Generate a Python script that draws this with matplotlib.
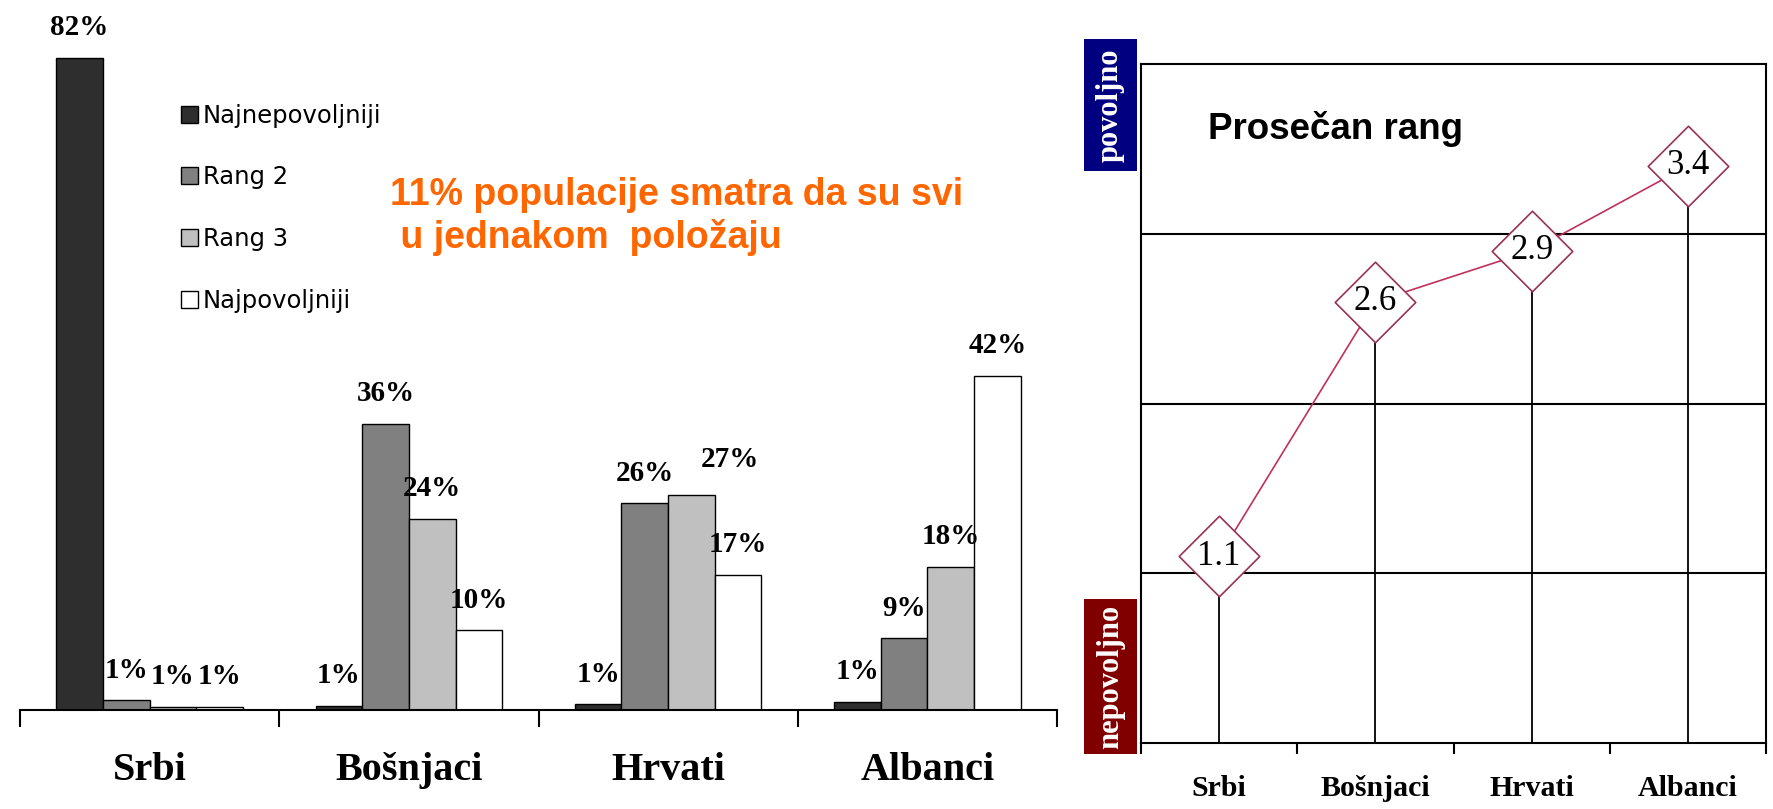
import numpy as np
import matplotlib
matplotlib.use("Agg")
import matplotlib.pyplot as plt
from matplotlib.path import Path
from matplotlib.ticker import FixedLocator, NullFormatter

# ---- data ----------------------------------------------------------------
groups = ["Srbi", "Bošnjaci", "Hrvati", "Albanci"]
series = ["Najnepovoljniji", "Rang 2", "Rang 3", "Najpovoljniji"]
# share of respondents per rank (bar heights; tiny ones printed as 1%)
najnepovoljniji = [82, 0.5, 0.7, 1.0]
rang2 = [1.2, 36, 26, 9]
rang3 = [0.4, 24, 27, 18]
najpovoljniji = [0.4, 10, 17, 42]
printed = [[82, 1, 1, 1], [1, 36, 26, 9], [1, 24, 27, 18], [1, 10, 17, 42]]

avg_rank = [1.1, 2.6, 2.9, 3.4]
note = "11% populacije smatra da su svi\n u jednakom  položaju"

SERIF = "Liberation Serif"
SANS = "Liberation Sans"
bar_colors = ["#2e2e2e", "#808080", "#c0c0c0", "#ffffff"]
# label nudges (points) where the original moved a label off its bar
nudge = {(2, 2): (28, 4)}

W, H = 1773, 809
fig = plt.figure(figsize=(W / 100, H / 100), dpi=100)

# ---- left: grouped bars --------------------------------------------------
ax = fig.add_axes([20 / W, 1 - 710 / H, 1037 / W, 700 / H])
x = np.arange(len(groups))
bw = 0.18
values = [najnepovoljniji, rang2, rang3, najpovoljniji]
for k, (vals, lab) in enumerate(zip(values, series)):
    pos = x + (k - 1.5) * bw
    bars = ax.bar(pos, vals, bw, color=bar_colors[k], edgecolor="black",
                  linewidth=1, label=lab, zorder=2)
    for g, (b, p) in enumerate(zip(bars, printed[k])):
        dx, dy = nudge.get((k, g), (0, 0))
        ax.annotate(f"{p}%", (b.get_x() + b.get_width() / 2, b.get_height()),
                    xytext=(dx, 12 + dy), textcoords="offset points",
                    ha="center", va="bottom", fontsize=21,
                    fontfamily=SERIF, fontweight="bold", annotation_clip=False)

ax.set_xlim(-0.5, 3.5)
ax.set_ylim(0, 88)
for s in ["left", "right", "top"]:
    ax.spines[s].set_visible(False)
ax.spines["bottom"].set_linewidth(1.5)
ax.set_yticks([])
ax.set_xticks(x)
ax.set_xticklabels(groups, fontsize=29, fontfamily=SERIF, fontweight="bold")
ax.tick_params(axis="x", which="major", length=0, pad=30)
ax.xaxis.set_minor_locator(FixedLocator(np.arange(-0.5, 4, 1)))
ax.tick_params(axis="x", which="minor", length=12, width=1.5, direction="out")

leg = ax.legend(loc="upper left", bbox_to_anchor=(0.155, 0.866), frameon=False,
                prop={"family": "DejaVu Sans", "size": 17.5},
                handlelength=0.7, handleheight=0.7, handletextpad=0.2,
                labelspacing=1.55, borderpad=0, borderaxespad=0)

fig.text(390 / W, 1 - 177 / H, note, color="#ff6600", fontsize=27,
         fontfamily=SANS, fontweight="bold", va="top", ha="left",
         linespacing=1.2)

# ---- right: average rank ---------------------------------------------------
ax2 = fig.add_axes([1141 / W, 1 - 743 / H, 625 / W, 679 / H])
xr = np.arange(len(groups))
ax2.set_xlim(-0.5, 3.5)
ax2.set_ylim(0, 4)
for yv in [1, 2, 3]:
    ax2.axhline(yv, color="black", lw=1.5, zorder=1)
ax2.vlines(xr, 0, avg_rank, color="black", lw=1.3, zorder=1)
diamond = Path([(0, -1), (1, 0), (0, 1), (-1, 0), (0, -1)],
               [Path.MOVETO, Path.LINETO, Path.LINETO, Path.LINETO, Path.CLOSEPOLY])
ax2.plot(xr, avg_rank, color="#c0305a", lw=1.2, zorder=2)
ax2.plot(xr, avg_rank, linestyle="none", marker=diamond, markersize=58,
         markerfacecolor="white", markeredgecolor="#993355",
         markeredgewidth=1.2, zorder=3)
for xi, v in zip(xr, avg_rank):
    ax2.text(xi, v, f"{v:.1f}", ha="center", va="center", fontsize=25,
             fontfamily=SERIF, zorder=4)

for s in ax2.spines.values():
    s.set_linewidth(1.5)
ax2.set_yticks([])
ax2.set_xticks(xr)
ax2.set_xticklabels(groups, fontsize=21.5, fontfamily=SERIF, fontweight="bold")
ax2.tick_params(axis="x", which="major", length=0, pad=23)
ax2.xaxis.set_minor_locator(FixedLocator(np.arange(-0.5, 4, 1)))
ax2.xaxis.set_minor_formatter(NullFormatter())
ax2.tick_params(axis="x", which="minor", length=8, width=1.5, direction="out")

ax2.text(0.107, 0.904, "Prosečan rang", transform=ax2.transAxes, fontsize=26.5,
         fontfamily=SANS, fontweight="bold", ha="left", va="center")

# side tags
for label, color, y0, y1 in [("povoljno", "#000080", 39, 171),
                             ("nepovoljno", "#800000", 599, 754)]:
    tag = fig.add_axes([1084 / W, 1 - y1 / H, 53 / W, (y1 - y0) / H])
    tag.set_facecolor(color)
    tag.set_xticks([])
    tag.set_yticks([])
    for s in tag.spines.values():
        s.set_visible(False)
    tag.text(0.5, 0.5, label, rotation=90, color="white", fontsize=22,
             fontfamily=SERIF, fontweight="bold", ha="center", va="center",
             transform=tag.transAxes)

fig.savefig("out.png", dpi=100)
